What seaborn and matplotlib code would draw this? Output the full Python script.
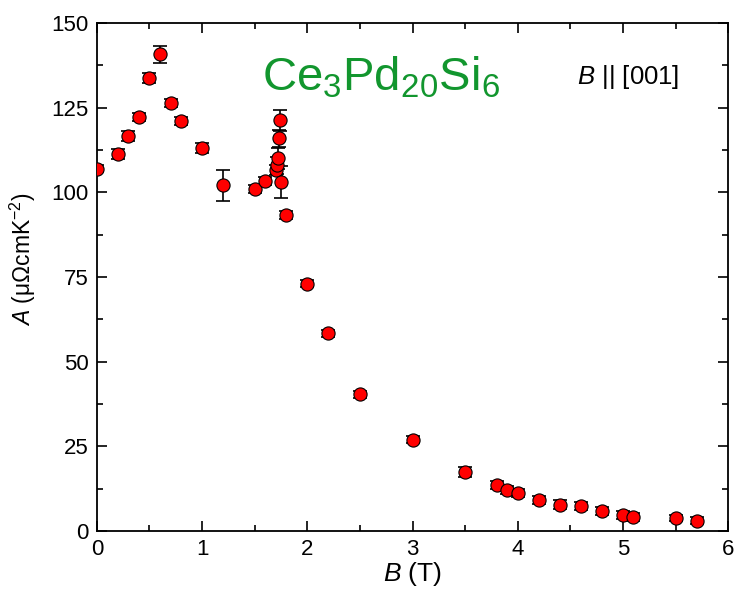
import numpy as np
import pandas as pd
import matplotlib
matplotlib.use("Agg")
import matplotlib.pyplot as plt
import seaborn as sns

# data
B = [0, 0.2, 0.3, 0.4, 0.5, 0.6, 0.7, 0.8, 1.0, 1.2, 1.5, 1.6, 1.7, 1.71, 1.72,
     1.73, 1.74, 1.75, 1.8, 2.0, 2.2, 2.5, 3.0, 3.5, 3.8, 3.9, 4.0, 4.2, 4.4,
     4.6, 4.8, 5.0, 5.1, 5.5, 5.7]
A = [107, 111.2, 116.5, 122.2, 133.8, 140.8, 126.4, 121, 113, 102, 101, 103.2,
     106.6, 108, 110, 116, 121.2, 103, 93.2, 73, 58.4, 40.4, 27, 17.5, 13.5,
     12.1, 11.2, 9.2, 7.8, 7.3, 5.9, 4.7, 4.2, 3.8, 3.0]
A_err = [1, 1.5, 1.5, 1.2, 1.5, 2.5, 1.2, 1.2, 1.5, 4.5, 1.2, 1.2, 1.5, 2.5, 3,
         2.5, 3, 4.8, 1.2, 1, 1, 1, 1, 1.5, 1.2, 1.2, 1.2, 1.2, 1.2, 1.2, 1.2,
         1.2, 1.2, 1, 1]

data = pd.DataFrame({"B": B, "A": A, "err": A_err})

sns.set_style("ticks")
plt.rcParams['font.family'] = ['Liberation Sans', 'DejaVu Sans']
plt.rcParams['mathtext.fontset'] = 'custom'
plt.rcParams['mathtext.rm'] = 'Liberation Sans'
plt.rcParams['mathtext.it'] = 'Liberation Sans:italic'
for k in ['text.color', 'axes.labelcolor', 'xtick.color', 'ytick.color', 'axes.edgecolor']:
    plt.rcParams[k] = 'black'

fig = plt.figure(figsize=(7.34, 5.97), dpi=100)
ax = fig.add_axes([0.132, 0.1106, 0.860, 0.851])

ax.errorbar(data.B, data.A, yerr=data.err, fmt='none', ecolor='black',
            elinewidth=1.2, capsize=5, capthick=1.2, zorder=2)
sns.scatterplot(data=data, x="B", y="A", ax=ax, color='red', edgecolor='black',
                linewidth=0.8, s=90, zorder=3)

ax.set_xlim(0, 6)
ax.set_ylim(0, 150)
ax.set_xticks(np.arange(0, 7, 1))
ax.set_xticks(np.arange(0.5, 6, 1), minor=True)
ax.set_yticks(np.arange(0, 151, 25))
ax.set_yticks(np.arange(12.5, 150, 25), minor=True)
ax.tick_params(which='both', direction='in', top=True, right=True, width=1.2)
ax.tick_params(which='major', length=7, labelsize=16, pad=6)
ax.tick_params(which='minor', length=4)
for sp in ax.spines.values():
    sp.set_linewidth(1.3)

ax.set_xlabel(r"$\it{B}$ (T)", fontsize=19, labelpad=0)
ax.set_ylabel(r"$\it{A}$ (μΩcmK$^{-2}$)", fontsize=16.5)
ax.yaxis.set_label_coords(-0.093, 0.535)

ax.text(0.262, 0.893, r"Ce$_3$Pd$_{20}$Si$_6$", transform=ax.transAxes,
        color='#12962e', fontsize=34, va='center', ha='left')
ax.text(0.76, 0.893, r"$\it{B}$ || [001]", transform=ax.transAxes,
        fontsize=18.5, va='center', ha='left')

fig.savefig("out.png", dpi=100)
